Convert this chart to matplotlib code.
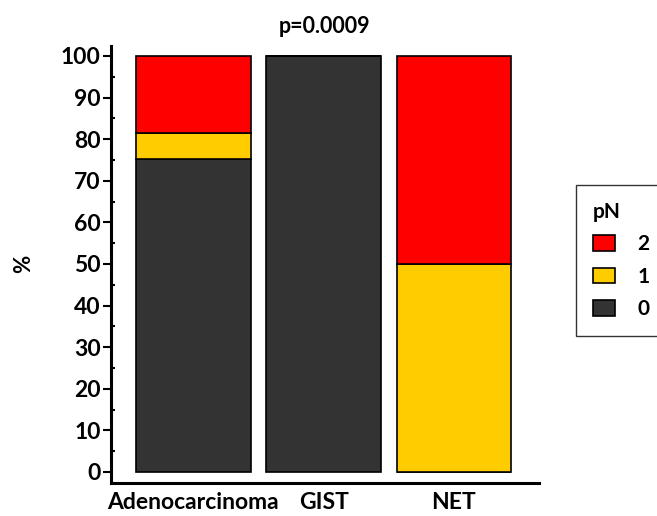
"""Stacked percentage bars of pN stage per tumour type."""

import numpy as np
from matplotlib import pyplot as plt
from matplotlib.patches import Patch
from matplotlib.ticker import MultipleLocator

# data (percent of cases per pN stage)
categories = ['Adenocarcinoma', 'GIST', 'NET']
pn_0 = [75.2, 100.0, 0.0]
pn_1 = [6.3, 0.0, 50.0]
pn_2 = [18.5, 0.0, 50.0]
stage_labels = ['0', '1', '2']
stage_colors = ['#333333', '#FFCC00', '#FF0000']
title_text = 'p=0.0009'

plt.rcParams['font.family'] = ['Lato', 'DejaVu Sans']
plt.rcParams['font.weight'] = 'bold'

fig = plt.figure(figsize=(6.57, 5.16), dpi=100)
ax = fig.add_axes([0.169, 0.0645, 0.651, 0.8465])

x = np.arange(len(categories))
bottom = np.zeros(len(categories))
for values, color in zip([pn_0, pn_1, pn_2], stage_colors):
    values = np.array(values)
    ax.bar(x, values, width=0.88, bottom=bottom, color=color,
           edgecolor='black', linewidth=1.2)
    bottom += values

ax.set_xlim(-0.63, 2.65)
ax.set_ylim(-2.6, 102.4)
ax.set_xticks(x)
ax.set_xticklabels(categories, fontsize=16.5, fontweight='bold')
ax.tick_params(axis='x', length=0, pad=7)

ax.yaxis.set_major_locator(MultipleLocator(10))
ax.yaxis.set_minor_locator(MultipleLocator(5))
ax.tick_params(axis='y', which='major', direction='out', length=6, width=1.5,
               labelsize=16.5, pad=1.5)
ax.tick_params(axis='y', which='minor', direction='in', length=3, width=1.5)
for lbl in ax.get_yticklabels():
    lbl.set_fontweight('bold')

for side in ['top', 'right']:
    ax.spines[side].set_visible(False)
for side in ['left', 'bottom']:
    ax.spines[side].set_linewidth(2.2)

ax.set_ylabel('%', fontsize=16, fontweight='bold', labelpad=19)
ax.set_title(title_text, fontsize=15.5, fontweight='bold', pad=9)

# legend with highest stage on top
handles = [Patch(facecolor=c, edgecolor='black', linewidth=1.2) for c in stage_colors]
leg = fig.legend(handles[::-1], stage_labels[::-1], title='pN',
                 loc='upper left', bbox_to_anchor=(576 / 657, 1 - 185 / 516),
                 borderaxespad=0, frameon=True, fancybox=False,
                 edgecolor='black', fontsize=15, title_fontsize=15,
                 handlelength=1.05, handleheight=0.75, handletextpad=1.1,
                 borderpad=0.8, labelspacing=0.6)
leg.get_frame().set_linewidth(1.0)
leg._legend_box.align = 'left'
plt.setp(leg.get_title(), fontweight='bold')
for t in leg.get_texts():
    t.set_fontweight('bold')

plt.savefig('out.png', dpi=100)
